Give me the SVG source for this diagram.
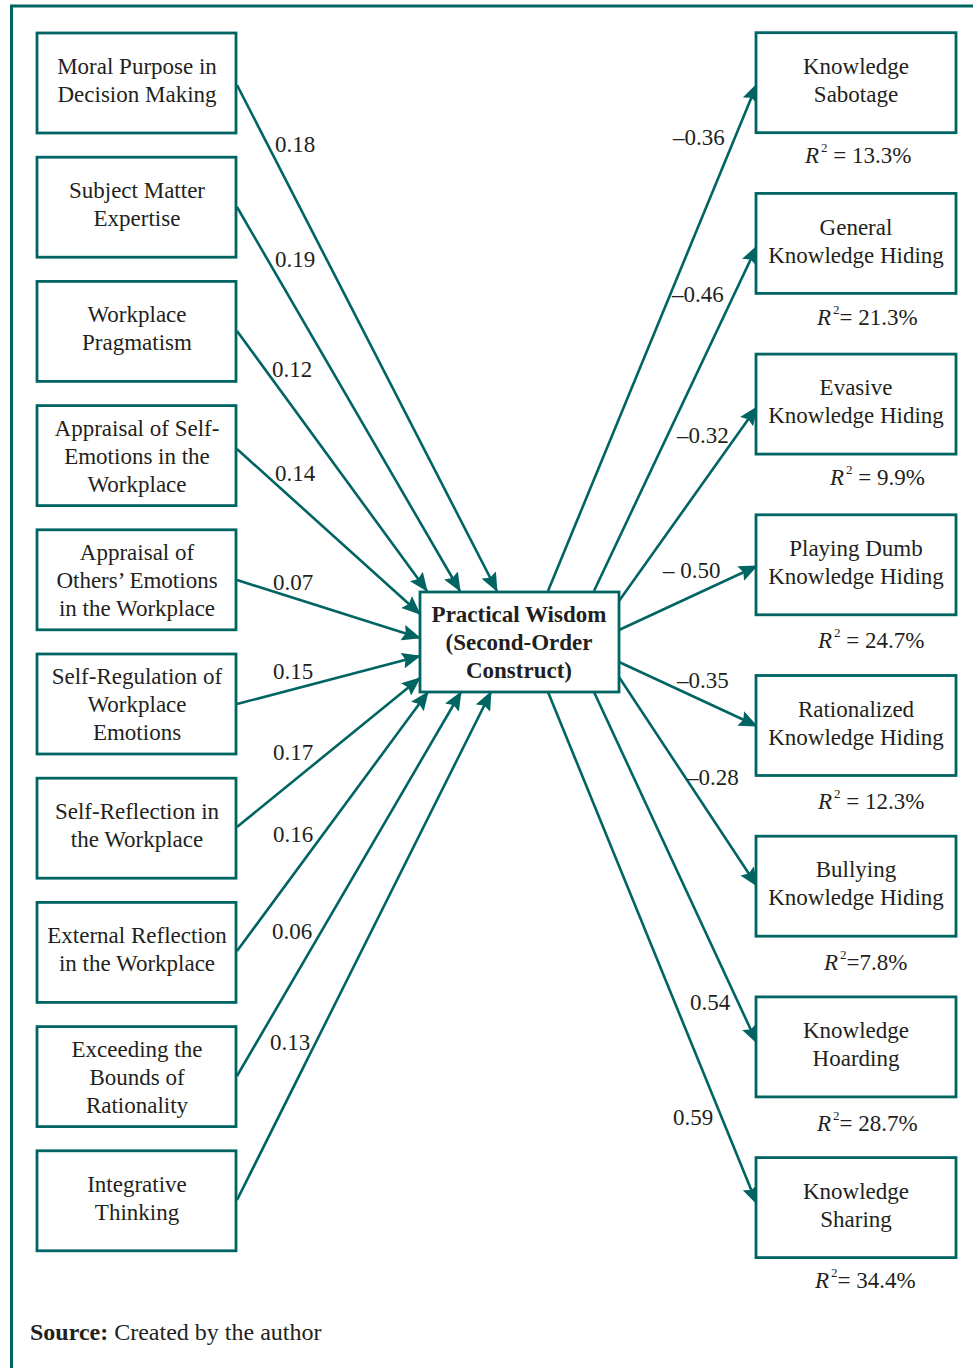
<svg xmlns="http://www.w3.org/2000/svg" width="973" height="1368" viewBox="0 0 973 1368">
<style>
  .frame{fill:none;stroke:#006463;stroke-width:3}
  .box{fill:#ffffff;stroke:#006463;stroke-width:2.8}
  .conn{fill:none;stroke:#006463;stroke-width:2.6}
  .t{font-family:"Liberation Serif","Times New Roman",serif;font-size:23px;fill:#231f20}
  .c{text-anchor:middle}
  .b{font-weight:bold}
  .it{font-style:italic}
  .sup{font-size:13px}
  .src{font-size:24px}
</style>
<defs>
  <marker id="ah" markerUnits="userSpaceOnUse" markerWidth="19" markerHeight="16" viewBox="0 0 19 16" refX="18" refY="8" orient="auto">
    <path d="M0,0 L19,8 L0,16 L3,8 z" fill="#006463"/>
  </marker>
</defs>
<rect width="973" height="1368" fill="#ffffff"/>
<path class="frame" d="M11.5,1368 V6 H973"/>

<g id="connectors">
  <line class="conn" x1="237" y1="85" x2="497" y2="591" marker-end="url(#ah)"/>
  <line class="conn" x1="237" y1="207" x2="460" y2="591" marker-end="url(#ah)"/>
  <line class="conn" x1="237" y1="331" x2="427" y2="591" marker-end="url(#ah)"/>
  <line class="conn" x1="237" y1="449" x2="420" y2="614" marker-end="url(#ah)"/>
  <line class="conn" x1="237" y1="580" x2="420" y2="638" marker-end="url(#ah)"/>
  <line class="conn" x1="237" y1="704" x2="420" y2="656" marker-end="url(#ah)"/>
  <line class="conn" x1="237" y1="827" x2="420" y2="678" marker-end="url(#ah)"/>
  <line class="conn" x1="237" y1="951" x2="428" y2="692" marker-end="url(#ah)"/>
  <line class="conn" x1="237" y1="1076" x2="461" y2="692" marker-end="url(#ah)"/>
  <line class="conn" x1="237" y1="1200" x2="491" y2="692" marker-end="url(#ah)"/>

  <line class="conn" x1="548" y1="591" x2="757" y2="84" marker-end="url(#ah)"/>
  <line class="conn" x1="594" y1="591" x2="757" y2="246" marker-end="url(#ah)"/>
  <line class="conn" x1="619" y1="601" x2="757" y2="407" marker-end="url(#ah)"/>
  <line class="conn" x1="619" y1="630" x2="757" y2="566" marker-end="url(#ah)"/>
  <line class="conn" x1="619" y1="662" x2="757" y2="726" marker-end="url(#ah)"/>
  <line class="conn" x1="619" y1="677" x2="757" y2="886" marker-end="url(#ah)"/>
  <line class="conn" x1="594" y1="692" x2="757" y2="1043" marker-end="url(#ah)"/>
  <line class="conn" x1="548" y1="692" x2="757" y2="1204" marker-end="url(#ah)"/>

  <g class="t">
    <text x="275" y="152">0.18</text>
    <text x="275" y="267">0.19</text>
    <text x="272" y="377">0.12</text>
    <text x="275" y="481">0.14</text>
    <text x="273" y="590">0.07</text>
    <text x="273" y="679">0.15</text>
    <text x="273" y="760">0.17</text>
    <text x="273" y="842">0.16</text>
    <text x="272" y="939">0.06</text>
    <text x="270" y="1050">0.13</text>

    <text x="673" y="145">–0.36</text>
    <text x="672" y="302">–0.46</text>
    <text x="677" y="443">–0.32</text>
    <text x="663" y="578">– 0.50</text>
    <text x="677" y="688">–0.35</text>
    <text x="687" y="785">–0.28</text>
    <text x="690" y="1010">0.54</text>
    <text x="673" y="1125">0.59</text>
  </g>
</g>

<g id="n-moral"><rect class="box" x="37" y="33" width="199" height="100"/>
  <text class="t c" x="137" y="74">Moral Purpose in</text><text class="t c" x="137" y="102">Decision Making</text></g>
<g id="n-subject"><rect class="box" x="37" y="157.2" width="199" height="100"/>
  <text class="t c" x="137" y="198">Subject Matter</text><text class="t c" x="137" y="226">Expertise</text></g>
<g id="n-pragmatism"><rect class="box" x="37" y="281.4" width="199" height="100"/>
  <text class="t c" x="137" y="322">Workplace</text><text class="t c" x="137" y="350">Pragmatism</text></g>
<g id="n-appraisal-self"><rect class="box" x="37" y="405.6" width="199" height="100"/>
  <text class="t c" x="137" y="436">Appraisal of Self-</text><text class="t c" x="137" y="464">Emotions in the</text><text class="t c" x="137" y="492">Workplace</text></g>
<g id="n-appraisal-others"><rect class="box" x="37" y="529.8" width="199" height="100"/>
  <text class="t c" x="137" y="560">Appraisal of</text><text class="t c" x="137" y="588">Others’ Emotions</text><text class="t c" x="137" y="616">in the Workplace</text></g>
<g id="n-self-regulation"><rect class="box" x="37" y="654" width="199" height="100"/>
  <text class="t c" x="137" y="684">Self-Regulation of</text><text class="t c" x="137" y="712">Workplace</text><text class="t c" x="137" y="740">Emotions</text></g>
<g id="n-self-reflection"><rect class="box" x="37" y="778.2" width="199" height="100"/>
  <text class="t c" x="137" y="819">Self-Reflection in</text><text class="t c" x="137" y="847">the Workplace</text></g>
<g id="n-external"><rect class="box" x="37" y="902.4" width="199" height="100"/>
  <text class="t c" x="137" y="943">External Reflection</text><text class="t c" x="137" y="971">in the Workplace</text></g>
<g id="n-exceeding"><rect class="box" x="37" y="1026.6" width="199" height="100"/>
  <text class="t c" x="137" y="1057">Exceeding the</text><text class="t c" x="137" y="1085">Bounds of</text><text class="t c" x="137" y="1113">Rationality</text></g>
<g id="n-integrative"><rect class="box" x="37" y="1150.8" width="199" height="100"/>
  <text class="t c" x="137" y="1192">Integrative</text><text class="t c" x="137" y="1220">Thinking</text></g>

<g id="n-center"><rect class="box" x="420" y="592" width="199" height="100"/>
  <text class="t c b" x="519" y="622">Practical Wisdom</text><text class="t c b" x="519" y="650">(Second-Order</text><text class="t c b" x="519" y="678">Construct)</text></g>

<g id="n-sabotage"><rect class="box" x="756" y="32.7" width="200" height="100"/>
  <text class="t c" x="856" y="74">Knowledge</text><text class="t c" x="856" y="102">Sabotage</text>
  <text class="t" x="805" y="163"><tspan class="it">R</tspan><tspan class="sup" dx="2" dy="-11">2</tspan><tspan dy="11"> = 13.3%</tspan></text></g>
<g id="n-general"><rect class="box" x="756" y="193.4" width="200" height="100"/>
  <text class="t c" x="856" y="235">General</text><text class="t c" x="856" y="263">Knowledge Hiding</text>
  <text class="t" x="817" y="325"><tspan class="it">R</tspan><tspan class="sup" dx="2" dy="-11">2</tspan><tspan dy="11">= 21.3%</tspan></text></g>
<g id="n-evasive"><rect class="box" x="756" y="354.1" width="200" height="100"/>
  <text class="t c" x="856" y="395">Evasive</text><text class="t c" x="856" y="423">Knowledge Hiding</text>
  <text class="t" x="830" y="485"><tspan class="it">R</tspan><tspan class="sup" dx="2" dy="-11">2</tspan><tspan dy="11"> = 9.9%</tspan></text></g>
<g id="n-playing-dumb"><rect class="box" x="756" y="514.8" width="200" height="100"/>
  <text class="t c" x="856" y="556">Playing Dumb</text><text class="t c" x="856" y="584">Knowledge Hiding</text>
  <text class="t" x="818" y="648"><tspan class="it">R</tspan><tspan class="sup" dx="2" dy="-11">2</tspan><tspan dy="11"> = 24.7%</tspan></text></g>
<g id="n-rationalized"><rect class="box" x="756" y="675.5" width="200" height="100"/>
  <text class="t c" x="856" y="717">Rationalized</text><text class="t c" x="856" y="745">Knowledge Hiding</text>
  <text class="t" x="818" y="809"><tspan class="it">R</tspan><tspan class="sup" dx="2" dy="-11">2</tspan><tspan dy="11"> = 12.3%</tspan></text></g>
<g id="n-bullying"><rect class="box" x="756" y="836.2" width="200" height="100"/>
  <text class="t c" x="856" y="877">Bullying</text><text class="t c" x="856" y="905">Knowledge Hiding</text>
  <text class="t" x="824" y="970"><tspan class="it">R</tspan><tspan class="sup" dx="2" dy="-11">2</tspan><tspan dy="11">=7.8%</tspan></text></g>
<g id="n-hoarding"><rect class="box" x="756" y="996.9" width="200" height="100"/>
  <text class="t c" x="856" y="1038">Knowledge</text><text class="t c" x="856" y="1066">Hoarding</text>
  <text class="t" x="817" y="1131"><tspan class="it">R</tspan><tspan class="sup" dx="2" dy="-11">2</tspan><tspan dy="11">= 28.7%</tspan></text></g>
<g id="n-sharing"><rect class="box" x="756" y="1157.6" width="200" height="100"/>
  <text class="t c" x="856" y="1199">Knowledge</text><text class="t c" x="856" y="1227">Sharing</text>
  <text class="t" x="815" y="1288"><tspan class="it">R</tspan><tspan class="sup" dx="2" dy="-11">2</tspan><tspan dy="11">= 34.4%</tspan></text></g>

<text class="t src" x="30" y="1340"><tspan class="b">Source:</tspan> Created by the author</text>
</svg>
